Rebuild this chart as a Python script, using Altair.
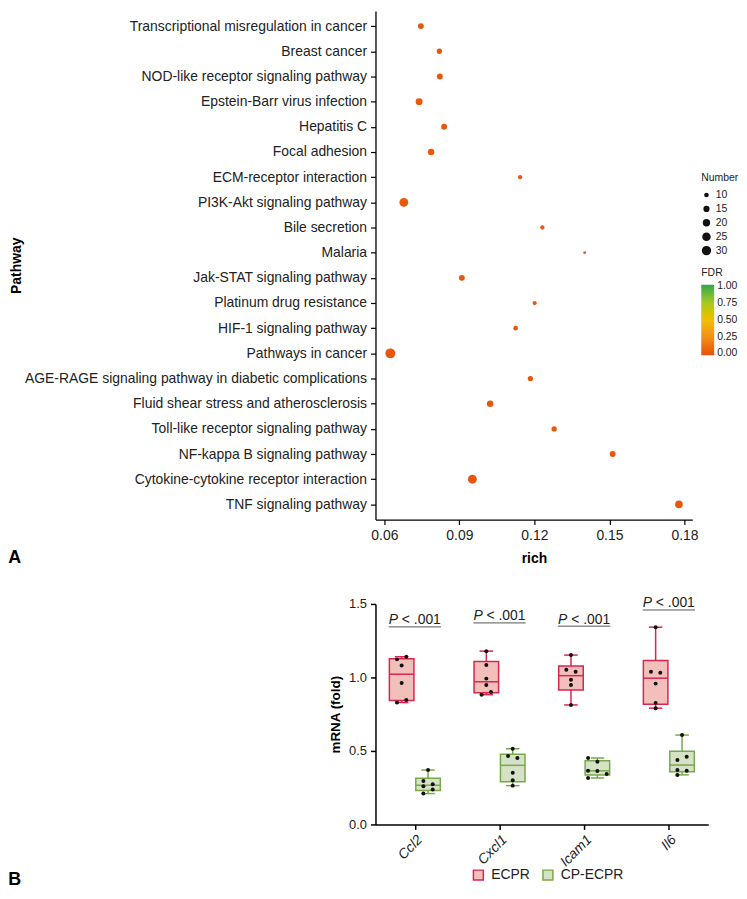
import json
import numpy as np
import pandas as pd
import altair as alt

# ---------------- Panel A data ----------------
PATHWAYS = [
    "Transcriptional misregulation in cancer",
    "Breast cancer",
    "NOD-like receptor signaling pathway",
    "Epstein-Barr virus infection",
    "Hepatitis C",
    "Focal adhesion",
    "ECM-receptor interaction",
    "PI3K-Akt signaling pathway",
    "Bile secretion",
    "Malaria",
    "Jak-STAT signaling pathway",
    "Platinum drug resistance",
    "HIF-1 signaling pathway",
    "Pathways in cancer",
    "AGE-RAGE signaling pathway in diabetic complications",
    "Fluid shear stress and atherosclerosis",
    "Toll-like receptor signaling pathway",
    "NF-kappa B signaling pathway",
    "Cytokine-cytokine receptor interaction",
    "TNF signaling pathway",
]
RICH = [0.0746, 0.0820, 0.0822, 0.0739, 0.0839, 0.0787, 0.1143, 0.0678, 0.1232, 0.1401,
        0.0910, 0.1201, 0.1125, 0.0624, 0.1184, 0.1023, 0.1279, 0.1513, 0.0952, 0.1778]
NUMBER = [14, 12, 14, 18, 14, 16, 9, 27, 9, 6,
          14, 9, 10, 33, 12, 16, 12, 14, 27, 21]
FDR = [0.004, 0.006, 0.004, 0.008, 0.006, 0.009, 0.012, 0.010, 0.015, 0.030,
       0.005, 0.012, 0.008, 0.002, 0.006, 0.003, 0.004, 0.001, 0.001, 0.0001]
RICH_TICKS = [0.06, 0.09, 0.12, 0.15, 0.18]
NUMBER_TICKS = [10, 15, 20, 25, 30]
FDR_TICKS = [0.0, 0.25, 0.5, 0.75, 1.0]

# ---------------- Panel B data ----------------
GENES = ["Ccl2", "Cxcl1", "Icam1", "Il6"]
GROUPS = ["ECPR", "CP-ECPR"]
ECPR_VALUES = [
    [0.829, 0.847, 0.962, 1.082, 1.123, 1.141],
    [0.883, 0.901, 0.949, 0.992, 1.084, 1.179],
    [0.813, 0.949, 0.985, 1.039, 1.053, 1.152],
    [0.791, 0.827, 0.958, 1.032, 1.039, 1.342],
]
ECPR_SLOTS = [
    [-1, 1, 0, 0, -1, 1],
    [-1, 1, 0, 0, 0, 0],
    [0, 0, 0, 1, -1, 0],
    [0, 0, 0, 1, -1, 0],
]
CP_VALUES = [
    [0.210, 0.237, 0.260, 0.273, 0.296, 0.370],
    [0.264, 0.300, 0.352, 0.452, 0.465, 0.515],
    [0.316, 0.343, 0.364, 0.366, 0.427, 0.452],
    [0.337, 0.366, 0.370, 0.438, 0.461, 0.608],
]
CP_SLOTS = [
    [-1, 1, -1, 1, -1, 0],
    [0, 0, 0, 1, -1, 0],
    [-2, 2, 0, -2, 0, -2],
    [-1, 1, -1, -1, 1, 0],
]
P_TEXT = ["< .001", "< .001", "< .001", "< .001"]
P_LINE_Y = [1.344, 1.371, 1.349, 1.459]

FONT = "Liberation Sans"
TXT = "#222222"

# ---------------- Panel A chart ----------------
top_df = pd.DataFrame({"Pathway": PATHWAYS, "rich": RICH, "Number": NUMBER, "FDR": FDR})
TOP_H = 512

top = alt.Chart(top_df).mark_circle(opacity=1).encode(
    x=alt.X("rich:Q",
            scale=alt.Scale(domain=[0.05646, 0.18315], nice=False, zero=False),
            axis=alt.Axis(values=RICH_TICKS, format=".2f", title="rich",
                          labelFontSize=14, labelColor=TXT, tickSize=5, tickColor="black",
                          tickWidth=1.2, domainColor="black", domainWidth=1.3, labelPadding=4,
                          titleFontSize=14, titleFontWeight="bold", titleColor="black",
                          titlePadding=9, grid=False)),
    y=alt.Y("Pathway:N", sort=PATHWAYS,
            scale=alt.Scale(type="point", padding=0.6),
            axis=alt.Axis(title="Pathway", labelFontSize=14, labelColor=TXT, tickSize=5,
                          tickColor="black", tickWidth=1.2, domainColor="black",
                          domainWidth=1.3, labelPadding=4, labelLimit=500,
                          titleFontSize=14, titleFontWeight="bold", titleColor="black",
                          titleX=-354, titleY=TOP_H / 2, grid=False)),
    size=alt.Size("Number:Q",
                  scale=alt.Scale(domain=[10, 30], range=[22, 89.5], zero=False),
                  legend=alt.Legend(orient="none", legendX=328, legendY=163.5, values=NUMBER_TICKS,
                                    title="Number", titleFontSize=10.5, titleFontWeight="normal",
                                    titleColor=TXT, labelFontSize=10.5, labelColor=TXT,
                                    symbolFillColor="#111111", symbolStrokeWidth=0,
                                    symbolOpacity=1, rowPadding=3, titlePadding=6, labelOffset=4)),
    color=alt.Color("FDR:Q",
                    scale=alt.Scale(domain=[-0.025, 0.25, 0.5, 0.75, 1.025],
                                    range=["#E84E0E", "#F2901A", "#F2BE0A", "#A8C822", "#2BA84B"]),
                    legend=alt.Legend(orient="none", legendX=328, legendY=259, values=FDR_TICKS,
                                      format=".2f", title="FDR", titleFontSize=10.5,
                                      titleFontWeight="normal", titleColor=TXT,
                                      labelFontSize=10.5, labelColor=TXT, gradientLength=71,
                                      gradientThickness=13, gradientStrokeWidth=0,
                                      labelOverlap=False, titlePadding=6, labelOffset=3)),
).properties(
    width=319, height=TOP_H,
    title=alt.TitleParams("A", orient="bottom", anchor="start", frame="group", dx=-369.7,
                          offset=-16, fontSize=18, fontWeight="bold", color="black", font=FONT),
)

# ---------------- Panel B chart ----------------
rows = []
for gi, gene in enumerate(GENES):
    for grp, vals, slots in ((GROUPS[0], ECPR_VALUES[gi], ECPR_SLOTS[gi]),
                             (GROUPS[1], CP_VALUES[gi], CP_SLOTS[gi])):
        for v, s in zip(vals, slots):
            rows.append({"gene": gene, "gi": gi, "group": grp, "value": v, "slot": s})
pts = pd.DataFrame(rows)

OFF = {GROUPS[0]: -0.156, GROUPS[1]: 0.156}
HALF_BOX = 0.145
HALF_CAP = 0.08
SLOT_W = 0.055
pts["px"] = pts["gi"] + pts["group"].map(OFF) + pts["slot"] * SLOT_W

stat_rows = []
for (gene, gi, grp), sub in pts.groupby(["gene", "gi", "group"], sort=False):
    v = sub["value"].to_numpy()
    q1, med, q3 = np.quantile(v, [0.25, 0.5, 0.75], method="weibull")
    c = gi + OFF[grp]
    stat_rows.append({"gene": gene, "group": grp, "q1": q1, "median": med, "q3": q3,
                      "lo": v.min(), "hi": v.max(), "xc": c,
                      "x1": c - HALF_BOX, "x2": c + HALF_BOX,
                      "c1": c - HALF_CAP, "c2": c + HALF_CAP})
stats = pd.DataFrame(stat_rows)

ann = pd.DataFrame({"gi": list(range(len(GENES))), "txt": P_TEXT, "ly": P_LINE_Y})
ann["u1"] = ann["gi"] - 0.309
ann["u2"] = ann["gi"] + 0.309

XS = alt.Scale(domain=[-0.465, 3.465], nice=False, zero=False)
YS = alt.Scale(domain=[0, 1.5], nice=False, zero=True)
label_expr = json.dumps(GENES) + "[round(datum.value)]"
XAX = alt.Axis(values=[0, 1, 2, 3], labelExpr=label_expr, title=None, labelAngle=-45,
               labelFontSize=14, labelFontStyle="italic", labelColor=TXT, tickSize=5,
               tickColor="black", tickWidth=1.5, domainColor="black", domainWidth=1.5,
               labelPadding=3, grid=False)
YAX = alt.Axis(values=[0, 0.5, 1.0, 1.5], format=".1f", title="mRNA (fold)",
               labelFontSize=13, labelColor=TXT, tickSize=5, tickColor="black",
               tickWidth=1.5, domainColor="black", domainWidth=1.5, labelPadding=4,
               titleFontSize=13.5, titleFontWeight="bold", titleColor="black",
               titlePadding=6, grid=False)

FILLS = ["#F2BFBA", "#D6E2C6"]
STROKES = ["#D8264F", "#78A84A"]
LEG = alt.Legend(orient="none", legendX=96.6, legendY=863, direction="horizontal", title=None,
                 symbolType="square", symbolSize=100, symbolStrokeWidth=1.5, labelFontSize=14,
                 labelColor=TXT, labelOffset=6, columnPadding=10)
fill_enc = alt.Fill("group:N", scale=alt.Scale(domain=GROUPS, range=FILLS), legend=LEG)
stroke_enc = alt.Stroke("group:N", scale=alt.Scale(domain=GROUPS, range=STROKES), legend=LEG)

base_s = alt.Chart(stats)
boxes = base_s.mark_bar(strokeWidth=1.5).encode(
    x=alt.X("x1:Q", scale=XS, axis=XAX), x2="x2:Q",
    y=alt.Y("q1:Q", scale=YS, axis=YAX), y2="q3:Q",
    fill=fill_enc, stroke=stroke_enc)
medians = base_s.mark_rule(strokeWidth=1.5).encode(
    x=alt.X("x1:Q", scale=XS, axis=XAX), x2="x2:Q",
    y=alt.Y("median:Q", scale=YS, axis=YAX), stroke=stroke_enc)
whisk_hi = base_s.mark_rule(strokeWidth=1.5).encode(
    x=alt.X("xc:Q", scale=XS, axis=XAX),
    y=alt.Y("q3:Q", scale=YS, axis=YAX), y2="hi:Q", stroke=stroke_enc)
whisk_lo = base_s.mark_rule(strokeWidth=1.5).encode(
    x=alt.X("xc:Q", scale=XS, axis=XAX),
    y=alt.Y("lo:Q", scale=YS, axis=YAX), y2="q1:Q", stroke=stroke_enc)
cap_hi = base_s.mark_rule(strokeWidth=1.5).encode(
    x=alt.X("c1:Q", scale=XS, axis=XAX), x2="c2:Q",
    y=alt.Y("hi:Q", scale=YS, axis=YAX), stroke=stroke_enc)
cap_lo = base_s.mark_rule(strokeWidth=1.5).encode(
    x=alt.X("c1:Q", scale=XS, axis=XAX), x2="c2:Q",
    y=alt.Y("lo:Q", scale=YS, axis=YAX), stroke=stroke_enc)
points = alt.Chart(pts).mark_circle(size=16, color="#111111", opacity=1).encode(
    x=alt.X("px:Q", scale=XS, axis=XAX),
    y=alt.Y("value:Q", scale=YS, axis=YAX))

base_a = alt.Chart(ann)
p_italic = base_a.mark_text(text="P", fontStyle="italic", fontSize=14, align="left",
                            baseline="alphabetic", dx=-26.3, dy=-2.5, color=TXT).encode(
    x=alt.X("gi:Q", scale=XS, axis=XAX), y=alt.Y("ly:Q", scale=YS, axis=YAX))
p_rest = base_a.mark_text(fontSize=14, align="left", baseline="alphabetic",
                          dx=-13.1, dy=-2.5, color=TXT).encode(
    x=alt.X("gi:Q", scale=XS, axis=XAX), y=alt.Y("ly:Q", scale=YS, axis=YAX), text="txt:N")
underline = base_a.mark_rule(strokeWidth=1, color="#555555").encode(
    x=alt.X("u1:Q", scale=XS, axis=XAX), x2="u2:Q", y=alt.Y("ly:Q", scale=YS, axis=YAX))

bottom = alt.layer(
    whisk_hi, whisk_lo, cap_hi, cap_lo, boxes, medians, points, underline, p_italic, p_rest
).properties(
    width=335, height=222,
    title=alt.TitleParams("B", orient="bottom", anchor="start", frame="group", dx=-369.7,
                          offset=2, fontSize=18, fontWeight="bold", color="black", font=FONT),
)

chart = alt.vconcat(top, bottom, spacing=29).properties(
    padding={"left": 0, "top": 0, "right": 0, "bottom": 0}
).configure(font=FONT).configure_view(stroke=None)

chart.save("out.html", embed_options={"renderer": "svg", "actions": False})
